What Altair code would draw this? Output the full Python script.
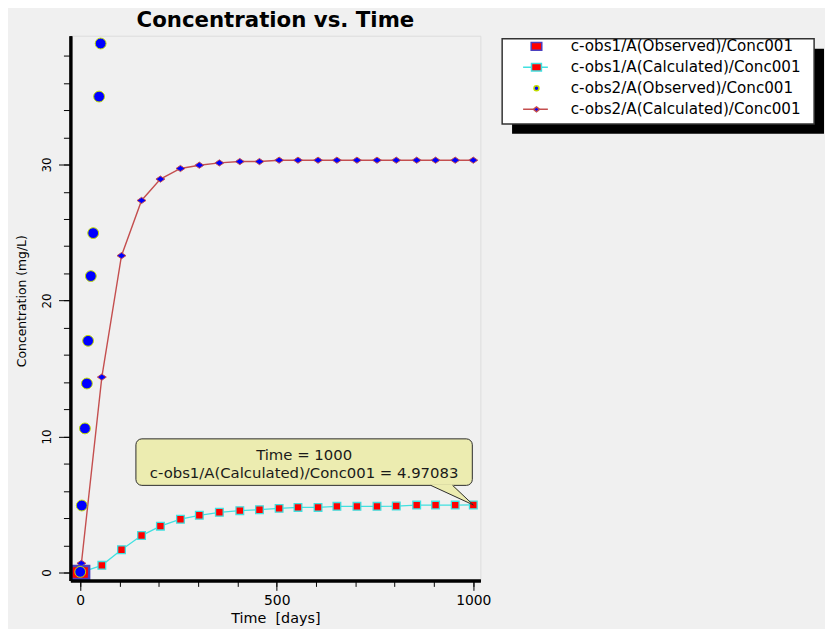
import altair as alt
import pandas as pd

# ---------------- data ----------------
series_names = [
    "c-obs1/A(Observed)/Conc001",
    "c-obs1/A(Calculated)/Conc001",
    "c-obs2/A(Observed)/Conc001",
    "c-obs2/A(Calculated)/Conc001",
]

obs1_time = [0]
obs1_conc = [0.0]

calc1_time = [0, 55, 105, 156, 204, 255, 303, 354, 406, 456, 506, 554, 605, 653,
              704, 755, 804, 856, 904, 954, 1000]
calc1_conc = [0.0, 0.53, 1.68, 2.72, 3.41, 3.92, 4.21, 4.43, 4.55, 4.62, 4.72, 4.79,
              4.79, 4.87, 4.87, 4.87, 4.89, 4.96, 4.96, 4.96, 4.97083]

obs2_time = [0, 4, 12, 17, 20, 27, 33, 48, 52]
obs2_conc = [0.05, 4.93, 10.6, 13.9, 17.04, 21.8, 24.96, 35.0, 38.9]

calc2_time = [0, 3, 55, 105, 156, 204, 255, 303, 354, 406, 456, 506, 554, 605, 653,
              704, 755, 804, 856, 904, 954, 1000]
calc2_conc = [0.0, 0.68, 14.37, 23.3, 27.36, 28.93, 29.71, 29.95, 30.12, 30.22, 30.22,
              30.32, 30.32, 30.32, 30.32, 30.32, 30.32, 30.32, 30.32, 30.32, 30.32, 30.32]

x_major_ticks = [0, 500, 1000]
x_minor_ticks = [0, 100, 200, 300, 400, 500, 600, 700, 800, 900, 1000]
y_major_ticks = [0, 10, 20, 30]
y_minor_ticks = [0, 2, 4, 6, 8, 10, 12, 14, 16, 18, 20, 22, 24, 26, 28, 30, 32, 34, 36, 38]

# call-out (tooltip) annotation, in data units
note_box_t = [141.7, 997.5]
note_box_c = [6.41, 9.83]
note_text_t = 569.6
note_text_c = [8.67, 7.35]
pointer_base_t = [891.8, 947.2]

# ---------------- tables ----------------
def frame(ts, cs, name):
    return pd.DataFrame({"t": ts, "c": cs, "series": name})

d_obs1 = frame(obs1_time, obs1_conc, series_names[0])
d_calc1 = frame(calc1_time, calc1_conc, series_names[1])
d_obs2 = frame(obs2_time, obs2_conc, series_names[2])
d_calc2 = frame(calc2_time, calc2_conc, series_names[3])
d_all = pd.concat([d_obs1, d_calc1, d_obs2, d_calc2], ignore_index=True)

tip_t = calc1_time[-1]
tip_c = calc1_conc[-1]
note_lines = pd.DataFrame({
    "t": [note_text_t, note_text_t],
    "c": note_text_c,
    "txt": [f"Time = {tip_t}", f"{series_names[1]} = {tip_c}"],
})
note_box = pd.DataFrame({"t": [note_box_t[0]], "t2": [note_box_t[1]],
                         "c": [note_box_c[0]], "c2": [note_box_c[1]]})
slope = (note_box_c[0] - tip_c) / (tip_t - pointer_base_t[0])
pointer_area = pd.DataFrame({
    "t": [pointer_base_t[0], pointer_base_t[1], tip_t],
    "top": [note_box_c[0] + 0.06, note_box_c[0] + 0.06, tip_c],
    "bot": [note_box_c[0], note_box_c[0] - slope * (pointer_base_t[1] - pointer_base_t[0]), tip_c],
})
pointer_edge = pd.DataFrame({
    "t": [pointer_base_t[0], tip_t, pointer_base_t[1]],
    "c": [note_box_c[0], tip_c, note_box_c[0]],
    "o": [0, 1, 2],
})

# ---------------- styling ----------------
FONT = "DejaVu Sans"
xs = alt.Scale(domain=[-25, 1018], nice=False, zero=False)
ys = alt.Scale(domain=[-0.58, 39.47], nice=False, zero=False)

CYAN = "#40e0e0"
DARKRED = "#c44e4e"
RED = "#ff0000"
BLUE = "#0000ff"
OBS_EDGE = "#4b3fc0"
YGREEN = "#c0dc00"

x_minor = alt.Axis(orient="bottom", values=x_minor_ticks, labels=False, tickSize=6,
                   title=None, grid=False, domainColor="black", domainWidth=3,
                   tickColor="black", zindex=1)
x_major = alt.Axis(orient="bottom", values=x_major_ticks, tickSize=10, grid=False,
                   domainColor="black", domainWidth=3, tickColor="black",
                   format="d",
                   labelFont=FONT, labelFontSize=14, labelColor="black",
                   labelPadding=3, labelBaseline="top",
                   title="Time\u00a0 [days]", titleFont=FONT, titleFontSize=14.5,
                   titleFontWeight="normal", titleColor="black",
                   titleX=207, titleY=38, titleAlign="center", titleBaseline="middle",
                   zindex=1)
y_minor = alt.Axis(orient="left", values=y_minor_ticks, labels=False, tickSize=7,
                   title=None, grid=False, domainColor="black", domainWidth=3,
                   tickColor="black", zindex=1)
y_major = alt.Axis(orient="left", values=y_major_ticks, tickSize=12, grid=False,
                   domainColor="black", domainWidth=3, tickColor="black",
                   labelFont=FONT, labelFontSize=12, labelColor="black",
                   labelAngle=270, labelAlign="center", labelBaseline="middle",
                   labelPadding=12,
                   title="Concentration (mg/L)", titleFont=FONT, titleFontSize=12.5,
                   titleFontWeight="normal", titleColor="black", titleAngle=270,
                   titleX=-49, titleY=267.5, titleAlign="center", titleBaseline="middle",
                   zindex=1)


def xy(xaxis=None, yaxis=None, ycol="c"):
    return dict(x=alt.X("t:Q", scale=xs, axis=xaxis),
                y=alt.Y(f"{ycol}:Q", scale=ys, axis=yaxis))


# legend symbol paths (unit = 7 px with size 196)
legend_shapes = [
    "M-1.07,-0.79H1.07V0.79H-1.07Z",
    "M-2.7,0H-1M1,0H2.3M-1,-0.75H1V0.75H-1Z",
    "M-0.5,0A0.5,0.5,0,1,0,0.5,0A0.5,0.5,0,1,0,-0.5,0Z",
    "M-2.7,0H-0.64M0.64,0H2.3M-0.64,0L0,-0.5L0.64,0L0,0.5Z",
]
legend_fill = [RED, RED, BLUE, BLUE]
legend_stroke = [OBS_EDGE, CYAN, YGREEN, DARKRED]

leg = alt.Legend(orient="none", legendX=436, legendY=0, title=None,
                 labelFont=FONT, labelFontSize=15.3, labelColor="black", labelLimit=400,
                 padding=3, rowPadding=5.2, symbolOffset=24, labelOffset=27, zindex=1)

# ---------------- layers ----------------
line1 = alt.Chart(d_calc1).mark_line(color=CYAN, strokeWidth=1.3).encode(
    **xy(x_minor, y_minor))
line2 = alt.Chart(d_calc2).mark_line(color=DARKRED, strokeWidth=1.4).encode(
    **xy(x_major, y_major))

sq_calc1 = alt.Chart(d_calc1).mark_point(
    shape="square", filled=True, size=60, fill=RED, stroke=CYAN,
    strokeWidth=1.3, opacity=1).encode(**xy())
dia_calc2 = alt.Chart(d_calc2).mark_point(
    shape="M-1,0L0,-0.7L1,0L0,0.7Z", filled=True, size=81, fill=BLUE,
    stroke=DARKRED, strokeWidth=1, opacity=1).encode(**xy())
sq_obs1 = alt.Chart(d_obs1).mark_point(
    shape="M-1,-0.73H1V0.73H-1Z", filled=True, size=324, fill=RED,
    stroke=OBS_EDGE, strokeWidth=2.5, opacity=1).encode(**xy())
dot_obs2 = alt.Chart(d_obs2).mark_point(
    shape="circle", filled=True, size=120, fill=BLUE, stroke=YGREEN,
    strokeWidth=1, opacity=1).encode(**xy())

legend_layer = alt.Chart(d_all).transform_filter("false").mark_point(
    filled=True, size=196, strokeWidth=1.5, opacity=1).encode(
    **xy(),
    shape=alt.Shape("series:N", scale=alt.Scale(domain=series_names, range=legend_shapes), legend=leg),
    fill=alt.Fill("series:N", scale=alt.Scale(domain=series_names, range=legend_fill), legend=leg),
    stroke=alt.Stroke("series:N", scale=alt.Scale(domain=series_names, range=legend_stroke), legend=leg),
)

box = alt.Chart(note_box).mark_rect(
    fill="#ececb0", stroke="#2a2a2a", strokeWidth=1, cornerRadius=6).encode(
    x=alt.X("t:Q", scale=xs, axis=None), x2="t2:Q",
    y=alt.Y("c:Q", scale=ys, axis=None), y2="c2:Q")
ptr_fill = alt.Chart(pointer_area).mark_area(color="#ececb0", opacity=1).encode(
    x=alt.X("t:Q", scale=xs, axis=None),
    y=alt.Y("top:Q", scale=ys, axis=None), y2="bot:Q")
ptr_edge = alt.Chart(pointer_edge).mark_line(color="#2a2a2a", strokeWidth=1).encode(
    x=alt.X("t:Q", scale=xs, axis=None),
    y=alt.Y("c:Q", scale=ys, axis=None), order="o:Q")
note_txt = alt.Chart(note_lines).mark_text(
    font=FONT, fontSize=15, color="#1a1a1a", align="center", baseline="middle").encode(
    **xy(), text="txt:N")

# legend frame and its drop shadow (decoration)
shadow = alt.Chart(d_obs1).mark_rect(color="black").encode(
    x=alt.value(446), x2=alt.value(761), y=alt.value(13), y2=alt.value(99))
legend_frame = alt.Chart(d_obs1).mark_rect(
    fill="white", stroke="#333333", strokeWidth=1.5).encode(
    x=alt.value(436), x2=alt.value(751), y=alt.value(3), y2=alt.value(89))

chart = alt.layer(
    shadow, legend_frame, line1, line2, sq_calc1, dia_calc2, sq_obs1, dot_obs2,
    box, ptr_fill, ptr_edge, note_txt, legend_layer,
).resolve_axis(x="independent", y="independent").properties(
    width=414, height=550,
    autosize=alt.AutoSizeParams(type="none"),
    padding={"left": 63, "top": 25, "right": 348, "bottom": 46},
    background="#f0f0f0",
    title=alt.Title("Concentration vs. Time", font=FONT, fontSize=21.5,
                    fontWeight="bold", color="black", anchor="middle",
                    frame="group", offset=6, baseline="alphabetic", dy=19),
).configure_view(stroke="#2e2e2e", strokeWidth=2, fill="white").configure(font=FONT)

chart.save("out.html", embed_options={"renderer": "svg", "actions": False})
